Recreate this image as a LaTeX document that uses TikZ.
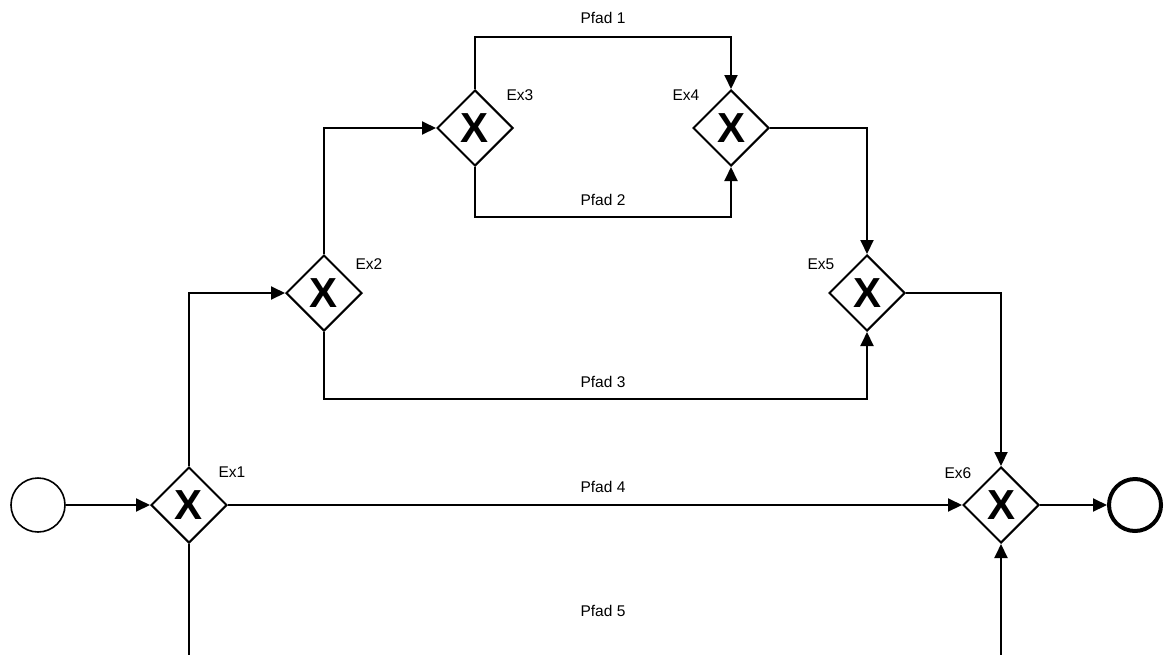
\documentclass[tikz,border=0pt]{standalone}
\usepackage{fontspec}
\setmainfont{Liberation Sans}
\usetikzlibrary{shapes.geometric,arrows.meta}
\begin{document}
\begin{tikzpicture}[x=1pt,y=-1pt,
  gw/.style={diamond,draw,line width=2pt,minimum width=76pt,minimum height=76pt,inner sep=0pt,aspect=1,
    font=\fontsize{42}{42}\selectfont\bfseries},
  ev/.style={circle,draw,minimum size=54pt,inner sep=0pt},
  flow/.style={line width=2pt,-{Triangle[length=14pt,width=13pt]}},
  lbl/.style={font=\fontsize{15.5}{17}\selectfont,inner sep=0pt}]
\useasboundingbox (0,0) rectangle (1164,654);
\clip (0,0) rectangle (1164,654);
\node[ev,line width=1.6pt] (s) at (38,505) {};
\node[ev,line width=4pt,minimum size=52pt] (e) at (1135,505) {};
\node[gw] (g1) at (189,505) {X};
\node[gw] (g2) at (324,293) {X};
\node[gw] (g3) at (475,128) {X};
\node[gw] (g4) at (731,128) {X};
\node[gw] (g5) at (867,293) {X};
\node[gw] (g6) at (1001,505) {X};
\node[lbl] (l1) at (232,472) {Ex1};
\node[lbl] (l2) at (369,264) {Ex2};
\node[lbl] (l3) at (520,95) {Ex3};
\node[lbl] (l4) at (686,95) {Ex4};
\node[lbl] (l5) at (821,264) {Ex5};
\node[lbl] (l6) at (958,473) {Ex6};
\node[lbl] (p1) at (603,18) {Pfad 1};
\node[lbl] (p2) at (603,200) {Pfad 2};
\node[lbl] (p3) at (603,382) {Pfad 3};
\node[lbl] (p4) at (603,487) {Pfad 4};
\node[lbl] (p5) at (603,611) {Pfad 5};
\coordinate (c1) at (189,293);
\coordinate (c2) at (324,128);
\coordinate (c3a) at (475,37);
\coordinate (c3b) at (731,37);
\coordinate (c4a) at (475,217);
\coordinate (c4b) at (731,217);
\coordinate (c5) at (867,128);
\coordinate (c6a) at (324,399);
\coordinate (c6b) at (867,399);
\coordinate (c7) at (1001,293);
\coordinate (c8a) at (189,700);
\coordinate (c8b) at (1001,700);
\draw[flow] (s) -- (g1);
\draw[flow] (g1.north) -- (c1) -- (g2.west);
\draw[flow] (g2.north) -- (c2) -- (g3.west);
\draw[flow] (g3.north) -- (c3a) -- (c3b) -- (g4.north);
\draw[flow] (g3.south) -- (c4a) -- (c4b) -- (g4.south);
\draw[flow] (g4.east) -- (c5) -- (g5.north);
\draw[flow] (g2.south) -- (c6a) -- (c6b) -- (g5.south);
\draw[flow] (g5.east) -- (c7) -- (g6.north);
\draw[flow] (g1.east) -- (g6.west);
\draw[flow] (g1.south) -- (c8a) -- (c8b) -- (g6.south);
\draw[flow] (g6) -- (e);
\end{tikzpicture}
\end{document}
